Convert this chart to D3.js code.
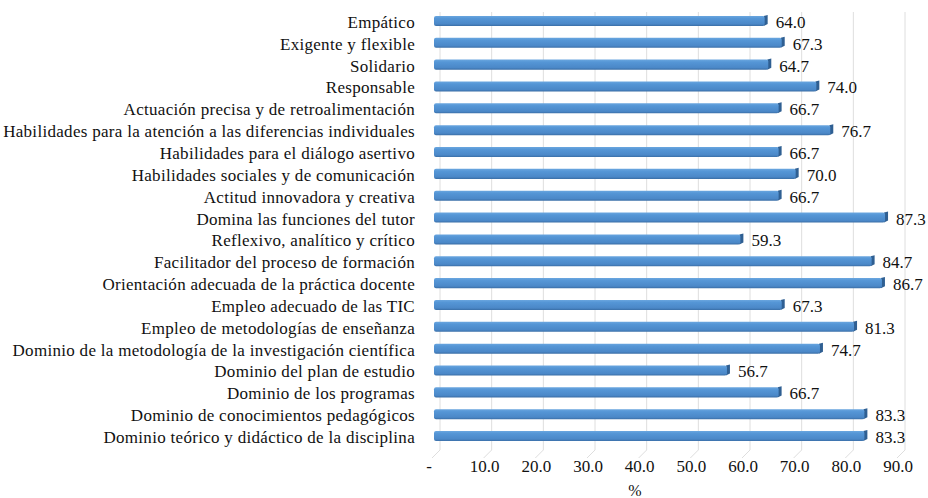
<!DOCTYPE html>
<html>
<head>
<meta charset="utf-8">
<script src="https://cdn.jsdelivr.net/npm/d3@7"></script>
<style>
  body { margin: 0; background: #fff; }
</style>
</head>
<body>
<svg width="928" height="498"></svg>
<script>
// Categories top to bottom, and their percentages
var categories = [
    'Empático',
    'Exigente y flexible',
    'Solidario',
    'Responsable',
    'Actuación precisa y de retroalimentación',
    'Habilidades para la atención a las diferencias individuales',
    'Habilidades para el diálogo asertivo',
    'Habilidades sociales y de comunicación',
    'Actitud innovadora y creativa',
    'Domina las funciones del tutor',
    'Reflexivo, analítico y crítico',
    'Facilitador del proceso de formación',
    'Orientación adecuada de la práctica docente',
    'Empleo adecuado de las TIC',
    'Empleo de metodologías de enseñanza',
    'Dominio de la metodología de la investigación científica',
    'Dominio del plan de estudio',
    'Dominio de los programas',
    'Dominio de conocimientos pedagógicos',
    'Dominio teórico y didáctico de la disciplina'
];
var values = [64.0, 67.3, 64.7, 74.0, 66.7, 76.7, 66.7, 70.0, 66.7, 87.3,
              59.3, 84.7, 86.7, 67.3, 81.3, 74.7, 56.7, 66.7, 83.3, 83.3];
var ticks = [0, 10, 20, 30, 40, 50, 60, 70, 80, 90];
var tickLabels = ['-', '10.0', '20.0', '30.0', '40.0', '50.0', '60.0', '70.0', '80.0', '90.0'];

var svg = d3.select('svg');
var fontFam = '"Liberation Serif"';
var depth = 6;   // fake 3d offset of the back wall

var xScale = d3.scaleLinear().domain([0, 90]).range([434, 899]);
var yScale = d3.scaleBand().domain(categories).range([10, 447]).paddingInner(0.54).paddingOuter(0.27);

// gradient for bar faces
var defs = svg.append('defs');
var grad = defs.append('linearGradient').attr('id', 'barGrad')
    .attr('x1', 0).attr('y1', 0).attr('x2', 0).attr('y2', 1);
grad.append('stop').attr('offset', '0%').attr('stop-color', '#6aa6df');
grad.append('stop').attr('offset', '25%').attr('stop-color', '#5596d6');
grad.append('stop').attr('offset', '80%').attr('stop-color', '#4b88c8');
grad.append('stop').attr('offset', '100%').attr('stop-color', '#3a6ea6');

// back wall gridlines
svg.append('g').selectAll('line.grid')
    .data(ticks)
    .enter().append('line')
    .attr('class', 'grid')
    .attr('x1', function(d) { return xScale(d) + depth; })
    .attr('x2', function(d) { return xScale(d) + depth; })
    .attr('y1', 12)
    .attr('y2', 450)
    .attr('stroke', '#dedede')
    .attr('stroke-width', 1);

// floor lines
svg.append('g').selectAll('line.floor')
    .data(ticks)
    .enter().append('line')
    .attr('x1', function(d) { return xScale(d) - 2; })
    .attr('x2', function(d) { return xScale(d) + depth; })
    .attr('y1', 458)
    .attr('y2', 450)
    .attr('stroke', '#dedede')
    .attr('stroke-width', 1);

var bars = svg.append('g').selectAll('g.bar')
    .data(values)
    .enter().append('g')
    .attr('class', 'bar')
    .attr('transform', function(d, i) { return 'translate(0,' + yScale(categories[i]) + ')'; });

var bh = yScale.bandwidth();

// right end cap (darker)
bars.append('path')
    .attr('d', function(d) {
        var x = xScale(d);
        return 'M' + (x - 1) + ',0 L' + (x + 3) + ',-1 L' + (x + 3) + ',' + (bh - 2) + ' L' + (x - 1) + ',' + bh + 'Z';
    })
    .attr('fill', '#2f5f92');

bars.append('rect')
    .attr('x', xScale(0))
    .attr('y', 0)
    .attr('width', function(d) { return xScale(d) - xScale(0); })
    .attr('height', bh)
    .attr('rx', 2)
    .attr('fill', 'url(#barGrad)');

// value labels
bars.append('text')
    .attr('x', function(d) { return xScale(d) + 11; })
    .attr('y', bh / 2 + 1)
    .attr('dy', '0.35em')
    .style('font-family', fontFam)
    .style('font-size', '17px')
    .style('fill', '#111')
    .text(function(d) { return d.toFixed(1); });

// category labels
svg.append('g').selectAll('text.cat')
    .data(categories)
    .enter().append('text')
    .attr('class', 'cat')
    .attr('x', 415)
    .attr('y', function(d) { return yScale(d) + bh / 2 + 1; })
    .attr('dy', '0.35em')
    .attr('text-anchor', 'end')
    .style('font-family', fontFam)
    .style('font-size', '17px')
    .style('letter-spacing', '0.3px')
    .style('fill', '#111')
    .text(function(d) { return d; });

// x tick labels
svg.append('g').selectAll('text.tick')
    .data(ticks)
    .enter().append('text')
    .attr('x', function(d, i) { return i === 0 ? xScale(d) - 5 : xScale(d) - 1; })
    .attr('y', 472)
    .attr('text-anchor', 'middle')
    .style('font-family', fontFam)
    .style('font-size', '17px')
    .style('fill', '#111')
    .text(function(d, i) { return tickLabels[i]; });

svg.append('text')
    .attr('x', 635)
    .attr('y', 496)
    .attr('text-anchor', 'middle')
    .style('font-family', fontFam)
    .style('font-size', '16px')
    .style('fill', '#111')
    .text('%');
</script>
</body>
</html>
